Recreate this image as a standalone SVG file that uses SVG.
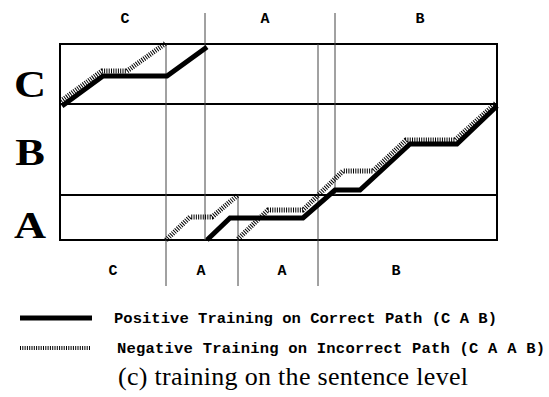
<svg xmlns="http://www.w3.org/2000/svg" width="549" height="397" viewBox="0 0 549 397">
<style>
.box{fill:none;stroke:#000;stroke-width:2}
.hl{stroke:#000;stroke-width:2}
.sep{stroke:#444;stroke-width:1}
.pos{fill:none;stroke:#000;stroke-width:5}
.neg{fill:none;stroke:#000;stroke-width:5;stroke-dasharray:1 1.3}
.lbl{font-family:"Liberation Mono",monospace;font-weight:bold;font-size:15px;text-anchor:middle}
.big{font-family:"Liberation Serif",serif;font-weight:bold;font-size:37px;text-anchor:middle}
.leg{font-family:"Liberation Mono",monospace;font-weight:bold;font-size:15.5px}
.cap{font-family:"Liberation Serif",serif;font-size:26px}
</style>
<rect width="549" height="397" fill="#fff"/>
<g id="grid">
<rect class="box" x="60" y="44" width="437" height="196"/>
<line class="hl" x1="60" y1="104" x2="497" y2="104"/>
<line class="hl" x1="60" y1="195" x2="497" y2="195"/>
<line class="sep" x1="205" y1="13" x2="205" y2="240"/>
<line class="sep" x1="335" y1="13" x2="335" y2="195"/>
<line class="sep" x1="166" y1="44" x2="166" y2="286"/>
<line class="sep" x1="238" y1="195" x2="238" y2="286"/>
<line class="sep" x1="318" y1="44" x2="318" y2="286"/>
</g>
<g id="top-labels">
<text class="lbl" x="125" y="23">C</text>
<text class="lbl" x="265" y="23">A</text>
<text class="lbl" x="420" y="23">B</text>
</g>
<g id="row-labels">
<text class="big" transform="translate(30,97) scale(1.2,1)">C</text>
<text class="big" transform="translate(30,165) scale(1.2,1)">B</text>
<text class="big" transform="translate(30,238) scale(1.2,1)">A</text>
</g>
<g id="bottom-labels">
<text class="lbl" x="113" y="275">C</text>
<text class="lbl" x="201" y="275">A</text>
<text class="lbl" x="282" y="275">A</text>
<text class="lbl" x="396" y="275">B</text>
</g>
<g id="connectors">
<path class="pos" d="M62,106 L103,76 L167,76 L207,47"/>
<path class="pos" d="M207,240 L230,218 L303,218 L335,190 L360,190 L410,144 L457,144 L497,106"/>
<path class="neg" d="M61,101 L102,71 L127,71 L166,43"/>
<path class="neg" d="M166,240 L190,217 L212,217 L238,195"/>
<path class="neg" d="M238,239 L268,210 L303,210 L343,171 L373,171 L406,140 L455,140 L496,103"/>
</g>
<g id="legend">
<line class="pos" x1="20" y1="318" x2="92" y2="318"/>
<line class="neg" x1="20" y1="348" x2="90" y2="348" style="stroke-width:4"/>
<text class="leg" x="114" y="323" textLength="383" lengthAdjust="spacing">Positive Training on Correct Path (C A B)</text>
<text class="leg" x="117" y="353" textLength="428" lengthAdjust="spacing">Negative Training on Incorrect Path (C A A B)</text>
</g>
<g id="caption">
<text class="cap" x="118" y="385" textLength="350" lengthAdjust="spacing">(c) training on the sentence level</text>
</g>
</svg>
